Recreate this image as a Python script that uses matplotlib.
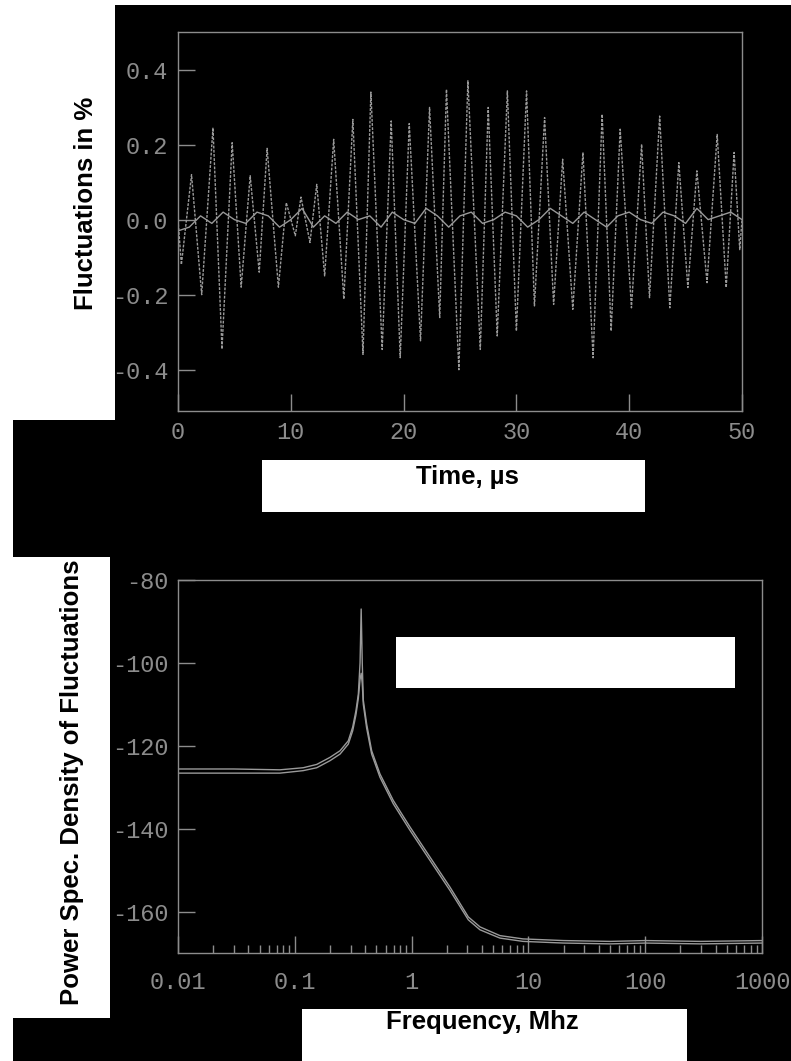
import matplotlib
matplotlib.use("Agg")
import matplotlib.pyplot as plt
import numpy as np
from matplotlib.patches import Rectangle
from matplotlib.ticker import FixedLocator, LogLocator, NullFormatter

# top panel: large oscillation, extremes (time in us, %)
osc_t = [0.0, 0.3, 1.2, 2.1, 3.1, 3.9, 4.8, 5.6, 6.4, 7.2, 7.9, 8.9, 9.6, 10.4,
         10.9, 11.7, 12.3, 13.0, 13.8, 14.7, 15.5, 16.4, 17.1, 18.1, 18.9, 19.7,
         20.5, 21.5, 22.3, 23.2, 23.8, 24.9, 25.7, 26.8, 27.5, 28.3, 29.2, 30.0,
         30.9, 31.6, 32.5, 33.3, 34.1, 35.0, 35.9, 36.8, 37.6, 38.4, 39.2, 40.2,
         41.1, 41.8, 42.7, 43.6, 44.4, 45.2, 46.0, 46.9, 47.8, 48.6, 49.3, 49.8, 50.0]
osc_v = [0.0, -0.12, 0.12, -0.20, 0.245, -0.345, 0.205, -0.18, 0.117, -0.14, 0.19,
         -0.18, 0.045, -0.043, 0.06, -0.061, 0.094, -0.15, 0.214, -0.212, 0.267,
         -0.359, 0.34, -0.346, 0.263, -0.368, 0.256, -0.323, 0.299, -0.261, 0.347,
         -0.40, 0.37, -0.346, 0.299, -0.31, 0.343, -0.297, 0.343, -0.23, 0.272,
         -0.226, 0.161, -0.239, 0.179, -0.368, 0.281, -0.297, 0.241, -0.235, 0.201,
         -0.208, 0.276, -0.235, 0.152, -0.181, 0.13, -0.168, 0.227, -0.181, 0.179,
         -0.08, 0.0]

# top panel: small trace around zero, one value per microsecond
small_v = [-0.03, -0.02, 0.01, -0.01, 0.02, 0.0, -0.01, 0.02, 0.01, -0.02, 0.0,
           0.03, -0.02, 0.01, -0.01, 0.02, 0.0, 0.01, -0.02, 0.02, 0.0, -0.01,
           0.03, 0.01, -0.02, 0.01, 0.02, -0.01, 0.0, 0.02, 0.01, -0.02, 0.0,
           0.03, 0.01, -0.01, 0.02, 0.0, -0.02, 0.01, 0.02, 0.0, -0.01, 0.02,
           0.01, -0.01, 0.03, 0.0, 0.01, 0.02, 0.0]

# bottom panel: power spectral density (MHz, dB)
freq = [0.01, 0.03, 0.0746, 0.118, 0.154, 0.2, 0.244, 0.287, 0.313, 0.334, 0.35,
        0.362, 0.37, 0.378, 0.386, 0.412, 0.455, 0.536, 0.697, 0.969, 1.44, 2.13,
        3.06, 3.85, 5.7, 9.0, 20, 50, 100, 300, 1000]
psd_a = [-125.6, -125.6, -125.8, -125.3, -124.5, -122.8, -121.2, -118.8, -115.5,
         -111.5, -107.5, -100.0, -87.0, -100.0, -109.0, -114.7, -121.2, -126.8,
         -133.2, -139.6, -146.9, -154.1, -161.3, -163.7, -165.8, -166.6, -167.0,
         -167.2, -167.0, -167.2, -167.0]
psd_b = [-126.6, -126.6, -126.6, -126.0, -125.3, -123.6, -122.0, -119.6, -116.4,
         -112.5, -108.5, -104.0, -102.5, -105.0, -110.0, -115.7, -122.0, -127.6,
         -134.0, -140.4, -147.7, -154.9, -162.0, -164.4, -166.4, -167.2, -167.6,
         -167.8, -167.6, -167.8, -167.6]

top_ticks = [-0.4, -0.2, 0.0, 0.2, 0.4]
top_labels = ['-0.4', '-0.2', '0.0', '0.2', '0.4']
bot_yticks = [-160, -140, -120, -100, -80]
bot_xticks = [0.01, 0.1, 1, 10, 100, 1000]
bot_xlabels = ['0.01', '0.1', '1', '10', '100', '1000']

W, H = 791, 1061
gray = '#8c8c8c'
tickfont = {'family': 'Liberation Mono', 'size': 17, 'color': gray}


def box(x0, y0, x1, y1, color, z):
    # pixel box (top-left origin) -> figure rectangle
    fig.patches.append(Rectangle((x0 / W, 1 - y1 / H), (x1 - x0) / W, (y1 - y0) / H,
                                 transform=fig.transFigure, facecolor=color,
                                 edgecolor='none', zorder=z))


def ax_rect(x0, y0, x1, y1):
    return [x0 / W, 1 - y1 / H, (x1 - x0) / W, (y1 - y0) / H]


fig = plt.figure(figsize=(W / 100, H / 100), dpi=100, facecolor='white')

# black scanned background
box(115, 5, 791, 420, 'black', -5)
box(13, 420, 791, 557, 'black', -5)
box(110, 557, 791, 1018, 'black', -5)
box(13, 1018, 791, 1061, 'black', -5)

ax1 = fig.add_axes(ax_rect(178, 32, 742, 411))
ax2 = fig.add_axes(ax_rect(178, 580, 762, 953))

for ax in (ax1, ax2):
    ax.set_facecolor('none')
    for s in ax.spines.values():
        s.set_color(gray)
        s.set_linewidth(1.0)

ax1.plot(osc_t, osc_v, color='#9a9a9a', lw=1.0, ls=(0, (2, 1)))
ax1.plot(np.linspace(0, 50, len(small_v)), small_v, color='#9a9a9a', lw=1.0)
ax1.set_xlim(0, 50)
ax1.set_ylim(-0.51, 0.50)
ax1.set_xticks([0, 10, 20, 30, 40, 50])
ax1.set_xticklabels(['0', '10', '20', '30', '40', '50'], fontdict=tickfont)
ax1.set_yticks(top_ticks)
ax1.set_yticklabels(top_labels, fontdict=tickfont)
ax1.tick_params(direction='in', length=12, color=gray, width=1.0)
ax1.tick_params(axis='x', pad=7)
ax1.tick_params(axis='y', pad=7)

ax2.plot(freq, psd_a, color='#9a9a9a', lw=1.0)
ax2.plot(freq, psd_b, color='#9a9a9a', lw=1.0)
ax2.set_xscale('log')
ax2.set_xlim(0.01, 1000)
ax2.set_ylim(-170, -80)
ax2.xaxis.set_major_locator(FixedLocator(bot_xticks))
ax2.set_xticklabels(bot_xlabels, fontdict=tickfont)
ax2.xaxis.set_minor_locator(LogLocator(base=10, subs=np.arange(2, 10)))
ax2.xaxis.set_minor_formatter(NullFormatter())
ax2.set_yticks(bot_yticks)
ax2.set_yticklabels([str(v) for v in bot_yticks], fontdict=tickfont)
ax2.tick_params(which='major', direction='in', length=12, color=gray, width=1.0)
ax2.tick_params(which='minor', direction='in', length=6, color=gray, width=1.0)
ax2.tick_params(axis='x', pad=13)
ax2.tick_params(axis='y', pad=7)

# white label boxes
box(262, 460, 645, 512, 'white', 5)
box(396, 637, 735, 688, 'white', 5)
box(302, 1009, 687, 1061, 'white', 5)

lab = dict(family='Liberation Sans', weight='bold', size=18.5, color='black', zorder=10)
fig.text(86 / W, 1 - 203 / H, 'Fluctuations in %', rotation=90, ha='center', va='center', **lab)
fig.text(72 / W, 1 - 782 / H, 'Power Spec. Density of Fluctuations', rotation=90,
         ha='center', va='center', **lab)
fig.text(467 / W, 1 - 477 / H, 'Time, \u00b5s', ha='center', va='center', **lab)
fig.text(482 / W, 1 - 1022 / H, 'Frequency, Mhz', ha='center', va='center', **lab)

fig.savefig('out.png', dpi=100, facecolor='white')
